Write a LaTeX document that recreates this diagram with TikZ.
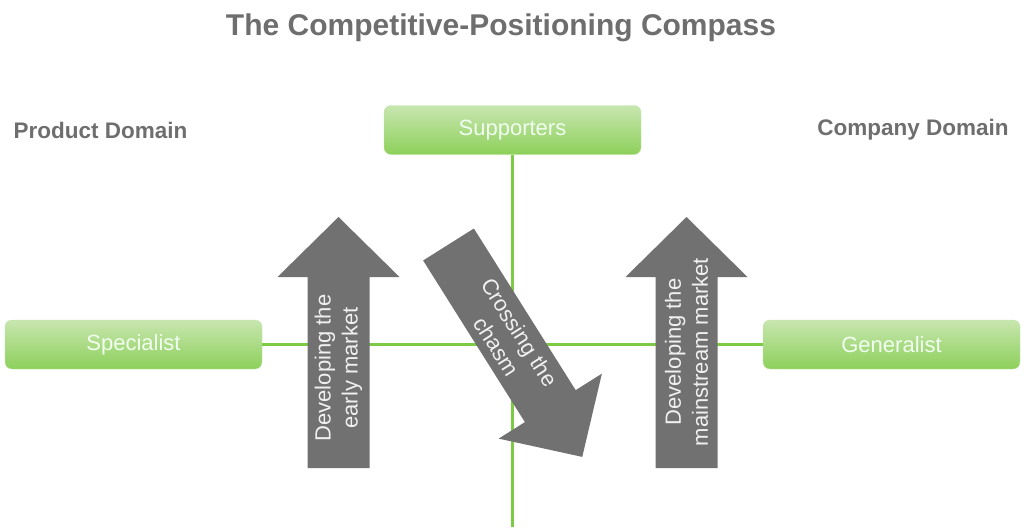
\documentclass[tikz,border=0pt]{standalone}
\usepackage{fontspec}
\setmainfont{Liberation Sans}

\definecolor{axisgreen}{HTML}{7DCB45}
\definecolor{boxtop}{HTML}{C8E6B0}
\definecolor{boxbottom}{HTML}{8DD05A}
\definecolor{arrowgray}{HTML}{717171}
\definecolor{titlegray}{HTML}{6E6E6E}

\tikzset{
    domainbox/.style={rounded corners=7pt, top color=boxtop, bottom color=boxbottom,
        draw=boxbottom!55!white, minimum width=257pt, minimum height=49pt,
        text=white!94!green, font=\fontsize{22}{26}\selectfont, yshift=-1.5pt},
    domainlabel/.style={text=titlegray, font=\bfseries\fontsize{22.5}{27}\selectfont},
    arrowtext/.style={text=white!94!black, align=center, transform shape,
        font=\fontsize{22}{27}\selectfont},
}

\begin{document}
\begin{tikzpicture}[x=1pt, y=-1pt]
        \useasboundingbox (0,0) rectangle (1024,527);

        \node[text=titlegray, font=\bfseries\fontsize{30}{36}\selectfont] (title) at (501,28) {The Competitive-Positioning Compass};
        \node[domainlabel] (product) at (100.5,130) {Product Domain};
        \node[domainlabel] (company) at (913,130) {Company Domain};

        \node[domainbox] (supporters) at (512.5,128.5) {Supporters};
        \node[domainbox] (specialist) at (133.5,343) {Specialist};
        \node[domainbox] (generalist) at (891.5,343) {Generalist};

        % compass axes
        \coordinate (bottom) at (512,527);
        \draw [axisgreen, line width=3pt] (supporters.south) -- (supporters.south |- bottom);
        \draw [axisgreen, line width=3pt] (specialist) -- (generalist);

        % arrows: tail at the scope origin, pointing along x
        \foreach \x/\d/\name/\txt in {338.5/100/early/{Developing the\\early market},
                                      686.5/116/mainstream/{Developing the\\mainstream market}} {
            \begin{scope}[shift={(\x,468)}, rotate=90]
                \fill [arrowgray] (0,-31) -- (191,-31) -- (191,-61) -- (251,0)
                    -- (191,61) -- (191,31) -- (0,31) -- cycle;
                \node [arrowtext] (\name) at (\d,0) {\txt};
            \end{scope}
        }

        \begin{scope}[shift={(448.5,244.5)}, rotate=-57.8]
            \fill [arrowgray] (0,-30) -- (191,-30) -- (191,-61) -- (251,0)
                -- (191,61) -- (191,30) -- (0,30) -- cycle;
            \node [arrowtext] (chasm) at (112,0) {Crossing the\\chasm};
        \end{scope}
    \end{tikzpicture}
\end{document}
